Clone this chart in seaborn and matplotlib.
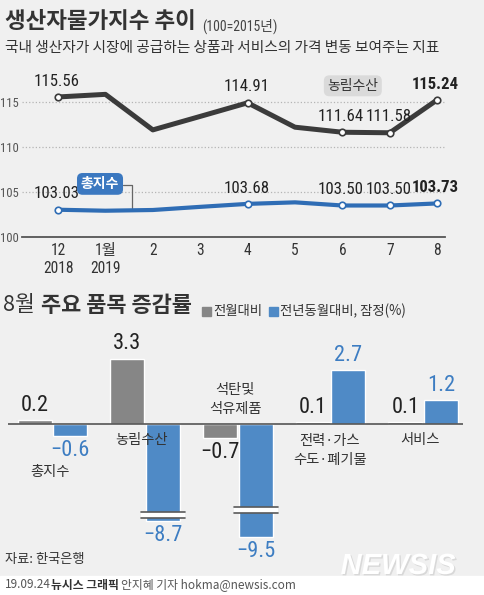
import numpy as np
import pandas as pd
import matplotlib
matplotlib.use('Agg')
import matplotlib.pyplot as plt
import matplotlib.transforms as mtransforms
import matplotlib.patheffects as pe
from matplotlib import font_manager
from matplotlib.font_manager import FontProperties
from matplotlib.textpath import TextToPath
from matplotlib.patches import Rectangle
import seaborn as sns

# --- data -------------------------------------------------------------
months = ['12\n2018', '1월\n2019', '2', '3', '4', '5', '6', '7', '8']
agri_index = [115.56, 115.85, 111.9, 113.4, 114.91, 112.2, 111.64, 111.58, 115.24]
total_index = [103.03, 102.92, 103.0, 103.35, 103.68, 103.85, 103.50, 103.50, 103.73]
labeled_points = [0, 4, 6, 7, 8]

categories = ['총지수', '농림수산', '석탄및\n석유제품', '전력·가스\n수도·폐기물', '서비스']
mom_change = [0.2, 3.3, -0.7, 0.1, 0.1]
yoy_change = [-0.6, -8.7, -9.5, 2.7, 1.2]
series_names = ['전월대비', '전년동월대비']

# --- style ------------------------------------------------------------
BG = '#f0f0f0'
DARK = '#3b3b3b'
LINE_BLUE = '#2f6db5'
BAR_GRAY = '#868686'
BAR_BLUE = '#4f8ac6'
TEXT_BLUE = '#3d7dc2'
TXT = '#333333'

sns.set_theme(style='white', rc={'axes.facecolor': 'none', 'figure.facecolor': BG})
plt.rcParams['font.family'] = ['Noto Sans CJK KR', 'DejaVu Sans']
plt.rcParams['axes.unicode_minus'] = True

# the numbers in the original use a narrow grotesque ("115.56" is ~2.85x as
# wide as it is tall); pick the plain sans variant closest to that shape
PLAIN = {'Noto Sans', 'Roboto', 'Roboto Condensed', 'Open Sans', 'Open Sans Condensed',
         'DejaVu Sans', 'Liberation Sans', 'Liberation Sans Narrow', 'Lato', 'Inter'}
ttp = TextToPath()
best = None
seen = set()
for f in font_manager.fontManager.ttflist:
    if f.style != 'normal' or f.weight not in (400, 'normal', 'regular', 'book'):
        continue
    ok = f.name in PLAIN or (f.name.startswith(('Noto Sans ', 'Roboto ', 'Open Sans ',
                                                'DejaVu Sans '))
                             and ('Condensed' in f.name or 'Narrow' in f.name))
    if not ok:
        continue
    key = (f.name, str(f.stretch))
    if key in seen:
        continue
    seen.add(key)
    prop = FontProperties(family=f.name, stretch=f.stretch, size=14)
    try:
        w, h, d = ttp.get_text_width_height_descent('115.56', prop, ismath=False)
    except Exception:
        continue
    if h <= 0:
        continue
    score = abs(w / h - 2.85)
    if best is None or score < best[0]:
        best = (score, w, f.name, f.stretch)
_, num_w, num_family, num_stretch = best
scale = min(1.15, max(0.75, 44 / (num_w * 100 / 72)))
NUM = dict(family=[num_family, 'Noto Sans CJK KR'], stretch=num_stretch)

W, H = 484, 595
fig = plt.figure(figsize=(W / 100, H / 100), dpi=100)


def fx(px):
    return px / W


def fy(py):
    return 1 - py / H


# --- top: line chart ---------------------------------------------------
ax = fig.add_axes([fx(22), fy(237), (445 - 22) / W, (237 - 79.5) / H])
pos = np.arange(len(months))
sns.lineplot(x=pos, y=agri_index, color=DARK, lw=3.6, ax=ax, zorder=3)
sns.lineplot(x=pos, y=total_index, color=LINE_BLUE, lw=3.0, ax=ax, zorder=3)
lp = np.array(labeled_points)
for vals, col in [(agri_index, DARK), (total_index, LINE_BLUE)]:
    v = np.array(vals)
    sns.scatterplot(x=lp, y=v[lp], marker='o', s=22, color='white',
                    edgecolor=col, linewidth=1.2, ax=ax, zorder=5)
    for i in labeled_points:
        ax.annotate(f'{vals[i]:.2f}', (i, vals[i]), xytext=(-1, 6),
                    textcoords='offset points', ha='center', va='bottom',
                    fontsize=14.6 * scale, color='#222222', **NUM,
                    fontweight='bold' if i == len(vals) - 1 else 'normal')

ax.set_xlim(-0.76, 8.165)
ax.set_ylim(100, 117.5)
ax.set_yticks([100, 105, 110, 115])
ax.set_xticks(pos)
ax.set_xticklabels(months, fontsize=13.5 * scale, color='#333333', linespacing=1.25, **NUM)
ax.set_yticklabels(['100', '105', '110', '115'], fontsize=11 * scale, color='#555555',
                   **NUM)
ax.tick_params(axis='x', direction='in', length=5, width=1, color='#555555', pad=4)
ax.tick_params(axis='y', length=0, pad=2)
ax.yaxis.grid(True, ls=':', color='#b5b5b5', lw=0.9)
ax.set_xlabel('')
ax.set_ylabel('')
for s in ['top', 'right', 'left']:
    ax.spines[s].set_visible(False)
ax.spines['bottom'].set_color('#555555')
ax.spines['bottom'].set_linewidth(1.3)

ax.text(6.22, 116.8, '농림수산', ha='center', va='center', fontsize=10, color=TXT,
        bbox=dict(boxstyle='round,pad=0.25,rounding_size=0.4', fc='#dadada', ec='none'))
ax.text(0.886, 105.9, '총지수', ha='center', va='center', fontsize=10, color='white',
        fontweight='bold',
        bbox=dict(boxstyle='round,pad=0.28,rounding_size=0.4', fc='#3b78c0', ec='none'))
ax.plot([1.37, 1.56, 1.56], [105.78, 105.78, 103.25], color='#666666', lw=0.9, zorder=2)

# --- bottom: bar chart --------------------------------------------------


def fwd(v):
    v = np.asarray(v, float)
    return np.where(v >= -2, v, np.where(v >= -7, -2 + (v + 2) * 0.24, -3.2 + (v + 7)))


def inv(u):
    u = np.asarray(u, float)
    return np.where(u >= -2, u, np.where(u >= -3.2, -2 + (u + 2) / 0.24, u - 3.8))


ax2 = fig.add_axes([fx(8), fy(560), (463 - 8) / W, (560 - 340) / H])
df = pd.DataFrame({
    'category': categories * 2,
    'series': [series_names[0]] * len(categories) + [series_names[1]] * len(categories),
    'value': mom_change + yoy_change,
})
sns.barplot(data=df, x='category', y='value', hue='series', hue_order=series_names,
            palette=[BAR_GRAY, BAR_BLUE], saturation=1, width=0.77, gap=0.05,
            legend=False, ax=ax2, zorder=2)
ax2.set_yscale('function', functions=(fwd, inv))
ax2.set_xlim(-0.48, 4.43)
ax2.set_ylim(-10.67, 4.24)
ax2.axhline(0, color='#555555', lw=1.2, zorder=3)
ax2.set_xticks([])
ax2.set_yticks([])
ax2.minorticks_off()
ax2.set_xlabel('')
ax2.set_ylabel('')
for s in ax2.spines.values():
    s.set_visible(False)

for cont, vals, col in [(ax2.containers[0], mom_change, '#222222'),
                        (ax2.containers[1], yoy_change, TEXT_BLUE)]:
    for bar, v in zip(cont, vals):
        xc = bar.get_x() + bar.get_width() / 2
        ax2.annotate(f'{v:.1f}'.replace('-', '\u2212'), (xc, v),
                     xytext=(0, 3 if v >= 0 else -3), textcoords='offset points',
                     ha='center', va='bottom' if v >= 0 else 'top',
                     fontsize=19.5 * scale, color=col, **NUM)

# axis-break marks on the two truncated bars
break_at = {1: -8.42, 2: -8.17}
up = mtransforms.offset_copy(ax2.transData, fig=fig, y=3, units='dots')
dn = mtransforms.offset_copy(ax2.transData, fig=fig, y=-3, units='dots')
for idx, yb in break_at.items():
    bar = ax2.containers[1][idx]
    xs = [bar.get_x() - 0.055, bar.get_x() + bar.get_width() + 0.055]
    ax2.plot(xs, [yb, yb], color='white', lw=4.2, solid_capstyle='butt', zorder=4)
    ax2.plot(xs, [yb, yb], color='#5a5a5a', lw=1.2, transform=up, zorder=5)
    ax2.plot(xs, [yb, yb], color='#5a5a5a', lw=1.2, transform=dn, zorder=5)

cat_offsets = [(-2.5, -48), (-3.5, -16), (-2.5, 24), (-0.7, -27), (-3, -16)]
for i, (lab, (dx, dy)) in enumerate(zip(categories, cat_offsets)):
    ax2.annotate(lab, (i, 0), xytext=(dx * 0.72, dy * 0.72), textcoords='offset points',
                 ha='center', va='center', fontsize=10.3, color=TXT, linespacing=1.45)

# --- titles, legend, footer ----------------------------------------------
fig.text(fx(5), fy(22), '생산자물가지수 추이', fontsize=16.2, fontweight='bold',
         color=TXT, va='center', ha='left')
fig.text(fx(202), fy(26), '(100=2015년)', fontsize=12 * scale, color='#444444',
         va='center', **NUM)
fig.text(fx(5), fy(48), '국내 생산자가 시장에 공급하는 상품과 서비스의 가격 변동 보여주는 지표',
         fontsize=10.6, color=TXT, va='center')

fig.text(fx(3), fy(305), '8월', fontsize=15.5, color=TXT, va='center')
fig.text(fx(41), fy(305), '주요 품목 증감률', fontsize=15.8, fontweight='bold', color=TXT,
         va='center')
for x0, col, lab in [(202, BAR_GRAY, series_names[0]),
                     (269, BAR_BLUE, series_names[1] + ', 잠정(%)')]:
    fig.patches.append(Rectangle((fx(x0), fy(315.5)), 9 / W, 9 / H, color=col,
                                 transform=fig.transFigure))
    fig.text(fx(x0 + 11), fy(311), lab, fontsize=9.6, color=TXT, va='center')

fig.text(fx(5), fy(560), '자료: 한국은행', fontsize=9.5, color=TXT, va='center')
fig.patches.append(Rectangle((0, 0), 1, (H - 576) / H, color='white',
                             transform=fig.transFigure, zorder=0))
fig.text(fx(398), fy(566), 'NEWSIS', fontsize=21, fontweight='bold', fontstyle='italic',
         color='white', ha='center', va='center', family='Liberation Sans',
         path_effects=[pe.withSimplePatchShadow(offset=(1, -1), shadow_rgbFace='#c8c8c8',
                                                alpha=0.6)])
fig.text(fx(5), fy(585), '19.09.24', fontsize=8.5, color='#555555', va='center')
fig.text(fx(51), fy(585), '뉴시스 그래픽', fontsize=8.5, color=TXT, fontweight='bold',
         va='center')
fig.text(fx(121), fy(585), '안지혜 기자 hokma@newsis.com', fontsize=8.5, color='#555555',
         va='center')

fig.savefig('out.png', dpi=100, facecolor=BG)
